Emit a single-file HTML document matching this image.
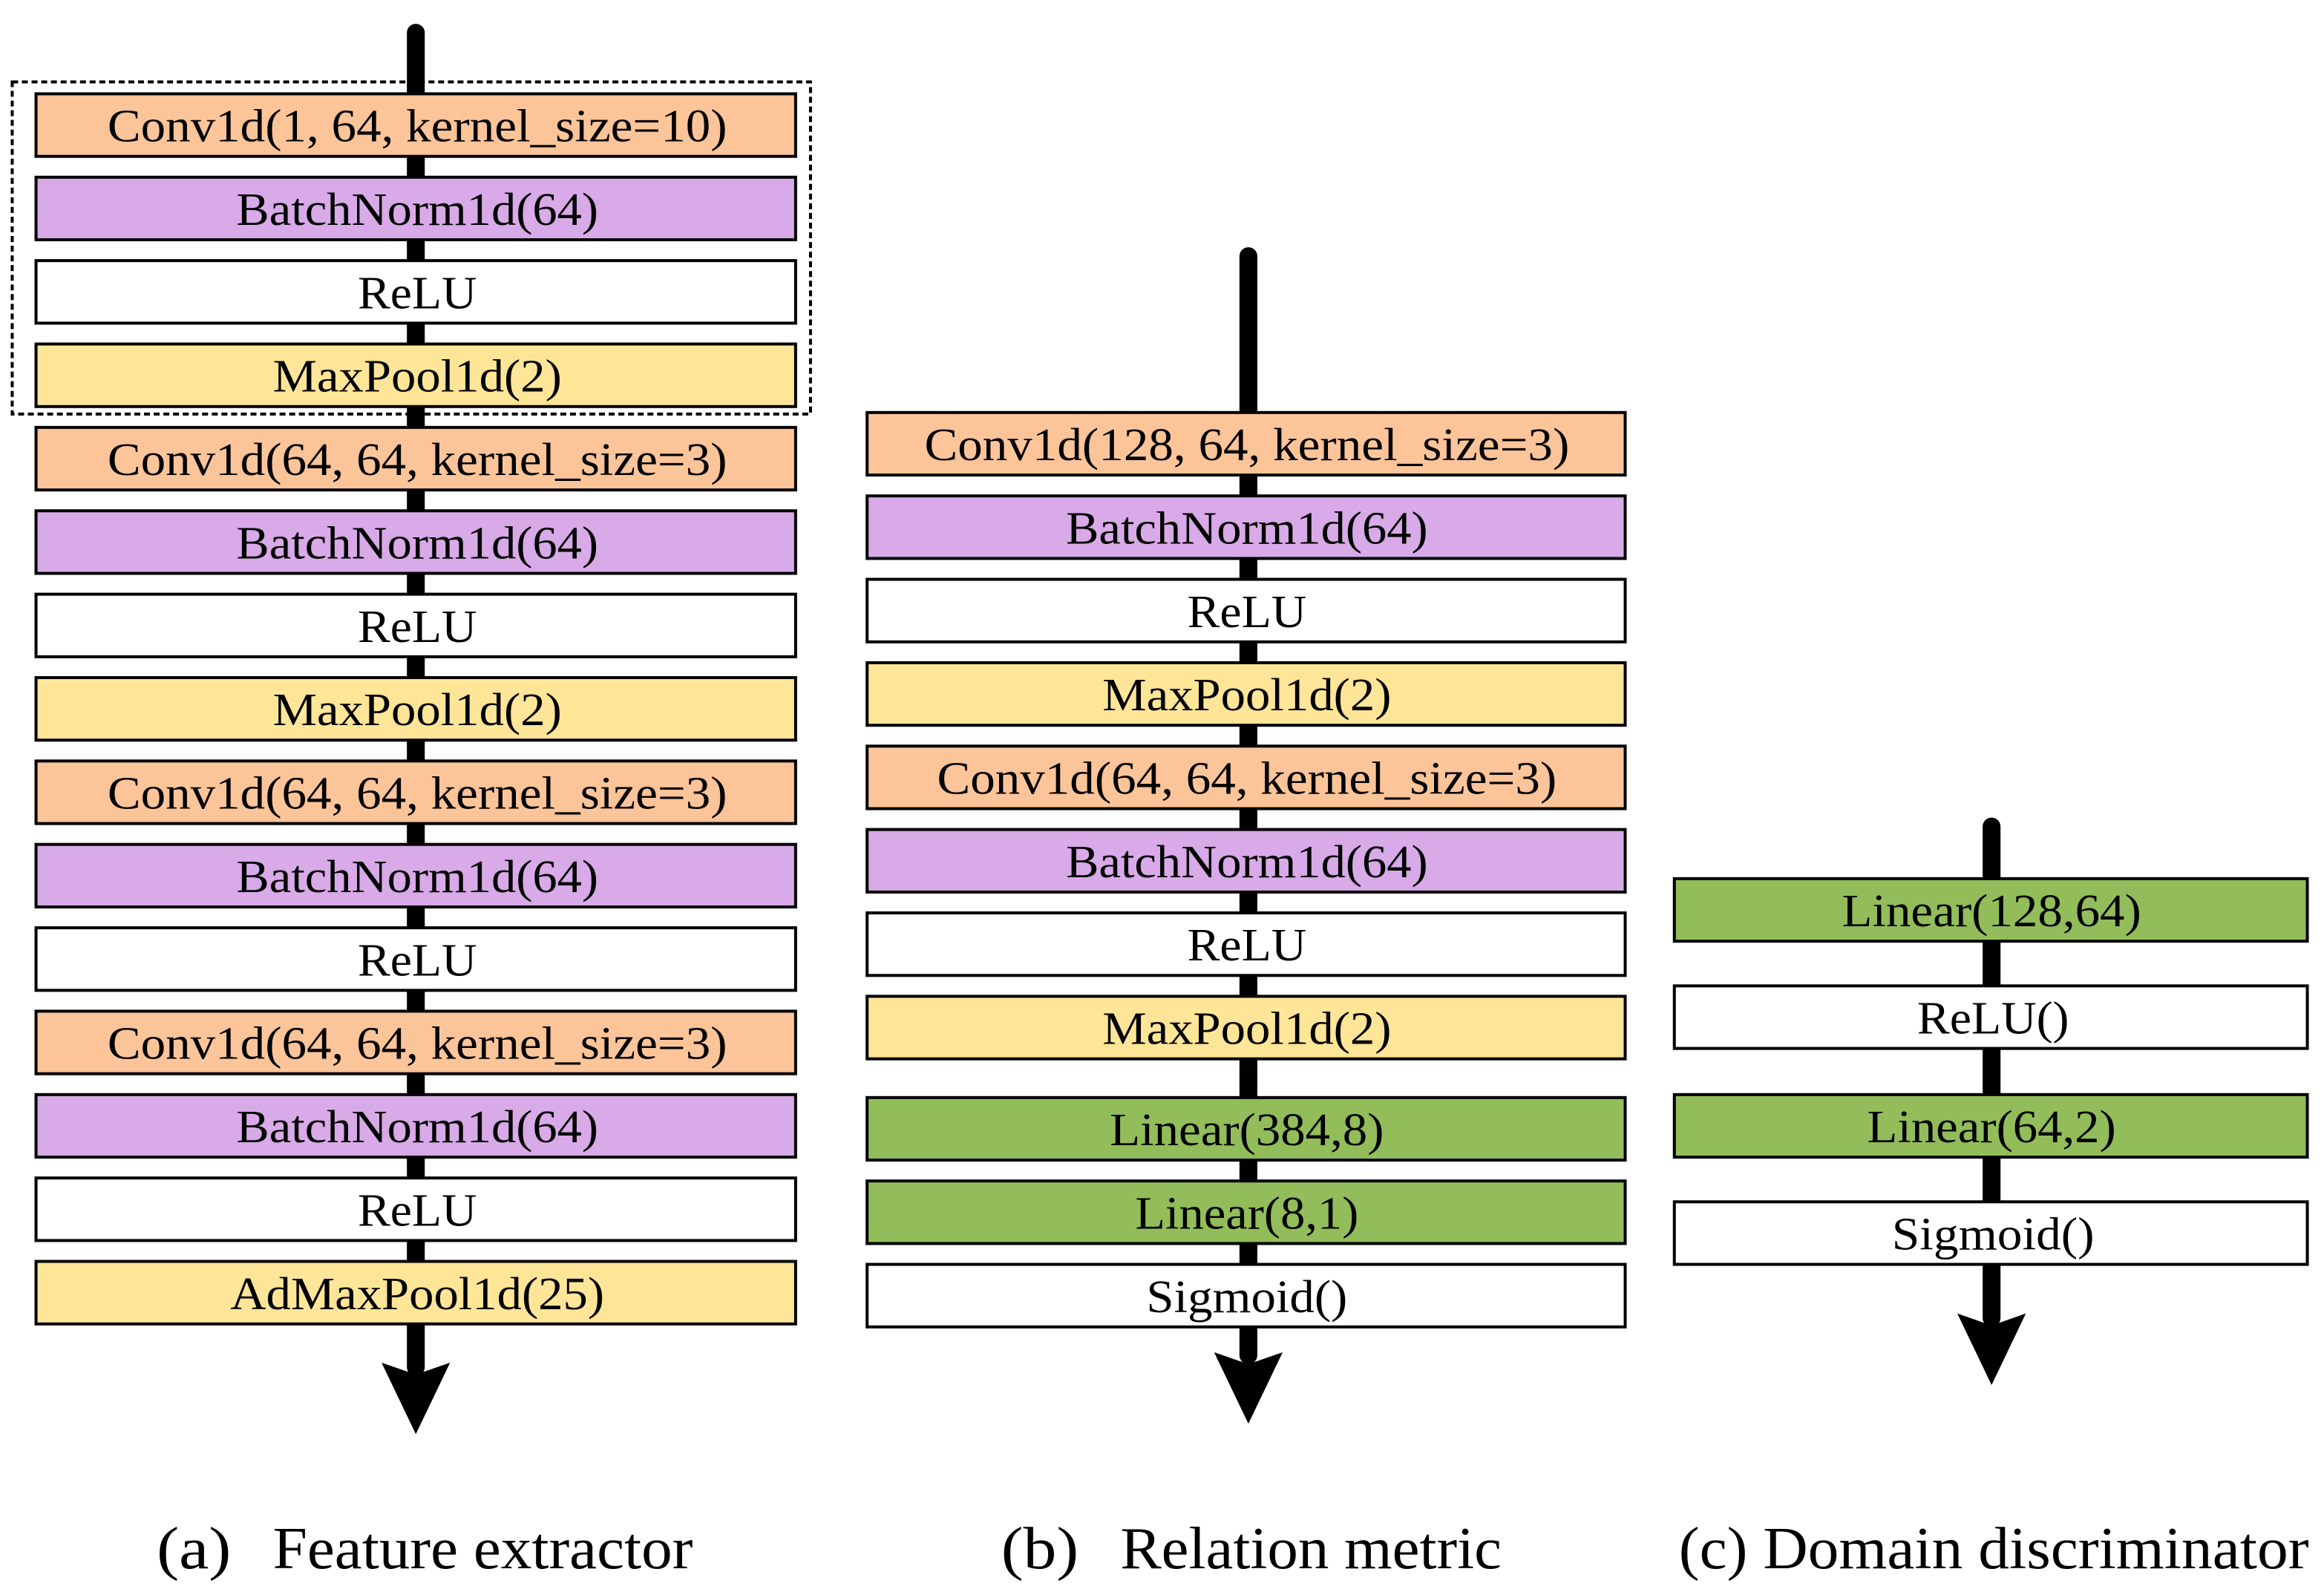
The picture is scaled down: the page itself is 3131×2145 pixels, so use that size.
<!DOCTYPE html>
<html><head><meta charset="utf-8"><style>
html,body{margin:0;padding:0;background:#fff;}
svg{display:block;}
text{font-family:"Liberation Serif",serif;font-size:31px;fill:#000;}
.cap{font-size:40px;}
</style></head><body>
<svg width="3131" height="2145" viewBox="0 0 1560 1069" xmlns="http://www.w3.org/2000/svg">
<rect width="1560" height="1069" fill="#fff"/>
<g stroke="#000" stroke-width="12" stroke-linecap="round">
<line x1="279" y1="22" x2="279" y2="918"/>
<line x1="838" y1="172" x2="838" y2="910"/>
<line x1="1337" y1="555" x2="1337" y2="885"/>
</g>
<g fill="#000">
<path d="M256,915 L279,923 L302,915 L279,963 Z"/>
<path d="M815,908 L838,916 L861,908 L838,956 Z"/>
<path d="M1314,882 L1337,890 L1360,882 L1337,930 Z"/>
</g>
<rect x="8" y="55" width="536" height="223" fill="none" stroke="#000" stroke-width="2" stroke-dasharray="4,2.5"/>
<g stroke="#000" stroke-width="2">
<rect x="24" y="63" width="510" height="42" fill="#FCC499"/>
<rect x="24" y="119" width="510" height="42" fill="#D8AAE8"/>
<rect x="24" y="175" width="510" height="42" fill="#fff"/>
<rect x="24" y="231" width="510" height="42" fill="#FEE598"/>
<rect x="24" y="287" width="510" height="42" fill="#FCC499"/>
<rect x="24" y="343" width="510" height="42" fill="#D8AAE8"/>
<rect x="24" y="399" width="510" height="42" fill="#fff"/>
<rect x="24" y="455" width="510" height="42" fill="#FEE598"/>
<rect x="24" y="511" width="510" height="42" fill="#FCC499"/>
<rect x="24" y="567" width="510" height="42" fill="#D8AAE8"/>
<rect x="24" y="623" width="510" height="42" fill="#fff"/>
<rect x="24" y="679" width="510" height="42" fill="#FCC499"/>
<rect x="24" y="735" width="510" height="42" fill="#D8AAE8"/>
<rect x="24" y="791" width="510" height="42" fill="#fff"/>
<rect x="24" y="847" width="510" height="42" fill="#FEE598"/>

<rect x="582" y="277" width="509" height="42" fill="#FCC499"/>
<rect x="582" y="333" width="509" height="42" fill="#D8AAE8"/>
<rect x="582" y="389" width="509" height="42" fill="#fff"/>
<rect x="582" y="445" width="509" height="42" fill="#FEE598"/>
<rect x="582" y="501" width="509" height="42" fill="#FCC499"/>
<rect x="582" y="557" width="509" height="42" fill="#D8AAE8"/>
<rect x="582" y="613" width="509" height="42" fill="#fff"/>
<rect x="582" y="669" width="509" height="42" fill="#FEE598"/>
<rect x="582" y="737" width="509" height="42" fill="#92BD5A"/>
<rect x="582" y="793" width="509" height="42" fill="#92BD5A"/>
<rect x="582" y="849" width="509" height="42" fill="#fff"/>

<rect x="1124" y="590" width="425" height="42" fill="#92BD5A"/>
<rect x="1124" y="662" width="425" height="42" fill="#fff"/>
<rect x="1124" y="735" width="425" height="42" fill="#92BD5A"/>
<rect x="1124" y="807" width="425" height="42" fill="#fff"/>
</g>
<g text-anchor="middle" lengthAdjust="spacingAndGlyphs">
<text x="280" y="95" textLength="416" lengthAdjust="spacingAndGlyphs">Conv1d(1, 64, kernel_size=10)</text>
<text x="280" y="151" textLength="243" lengthAdjust="spacingAndGlyphs">BatchNorm1d(64)</text>
<text x="280" y="207" textLength="80" lengthAdjust="spacingAndGlyphs">ReLU</text>
<text x="280" y="263" textLength="194" lengthAdjust="spacingAndGlyphs">MaxPool1d(2)</text>
<text x="280" y="319" textLength="416" lengthAdjust="spacingAndGlyphs">Conv1d(64, 64, kernel_size=3)</text>
<text x="280" y="375" textLength="243" lengthAdjust="spacingAndGlyphs">BatchNorm1d(64)</text>
<text x="280" y="431" textLength="80" lengthAdjust="spacingAndGlyphs">ReLU</text>
<text x="280" y="487" textLength="194" lengthAdjust="spacingAndGlyphs">MaxPool1d(2)</text>
<text x="280" y="543" textLength="416" lengthAdjust="spacingAndGlyphs">Conv1d(64, 64, kernel_size=3)</text>
<text x="280" y="599" textLength="243" lengthAdjust="spacingAndGlyphs">BatchNorm1d(64)</text>
<text x="280" y="655" textLength="80" lengthAdjust="spacingAndGlyphs">ReLU</text>
<text x="280" y="711" textLength="416" lengthAdjust="spacingAndGlyphs">Conv1d(64, 64, kernel_size=3)</text>
<text x="280" y="767" textLength="243" lengthAdjust="spacingAndGlyphs">BatchNorm1d(64)</text>
<text x="280" y="823" textLength="80" lengthAdjust="spacingAndGlyphs">ReLU</text>
<text x="280" y="879" textLength="251" lengthAdjust="spacingAndGlyphs">AdMaxPool1d(25)</text>

<text x="837" y="309" textLength="433" lengthAdjust="spacingAndGlyphs">Conv1d(128, 64, kernel_size=3)</text>
<text x="837" y="365" textLength="243" lengthAdjust="spacingAndGlyphs">BatchNorm1d(64)</text>
<text x="837" y="421" textLength="80" lengthAdjust="spacingAndGlyphs">ReLU</text>
<text x="837" y="477" textLength="194" lengthAdjust="spacingAndGlyphs">MaxPool1d(2)</text>
<text x="837" y="533" textLength="416" lengthAdjust="spacingAndGlyphs">Conv1d(64, 64, kernel_size=3)</text>
<text x="837" y="589" textLength="243" lengthAdjust="spacingAndGlyphs">BatchNorm1d(64)</text>
<text x="837" y="645" textLength="80" lengthAdjust="spacingAndGlyphs">ReLU</text>
<text x="837" y="701" textLength="194" lengthAdjust="spacingAndGlyphs">MaxPool1d(2)</text>
<text x="837" y="769" textLength="184" lengthAdjust="spacingAndGlyphs">Linear(384,8)</text>
<text x="837" y="825" textLength="150" lengthAdjust="spacingAndGlyphs">Linear(8,1)</text>
<text x="837" y="881" textLength="135" lengthAdjust="spacingAndGlyphs">Sigmoid()</text>

<text x="1337" y="622" textLength="201" lengthAdjust="spacingAndGlyphs">Linear(128,64)</text>
<text x="1338" y="694" textLength="102" lengthAdjust="spacingAndGlyphs">ReLU()</text>
<text x="1337" y="767" textLength="167" lengthAdjust="spacingAndGlyphs">Linear(64,2)</text>
<text x="1338" y="839" textLength="136" lengthAdjust="spacingAndGlyphs">Sigmoid()</text>
</g>
<g class="cap">
<text class="cap" x="105" y="1053" textLength="50" lengthAdjust="spacingAndGlyphs">(a)</text>
<text class="cap" x="183" y="1053" textLength="282" lengthAdjust="spacingAndGlyphs">Feature extractor</text>
<text class="cap" x="672" y="1053" textLength="52" lengthAdjust="spacingAndGlyphs">(b)</text>
<text class="cap" x="752" y="1053" textLength="256" lengthAdjust="spacingAndGlyphs">Relation metric</text>
<text class="cap" x="1127" y="1053" textLength="423" lengthAdjust="spacingAndGlyphs">(c) Domain discriminator</text>
</g>
</svg>
</body></html>
